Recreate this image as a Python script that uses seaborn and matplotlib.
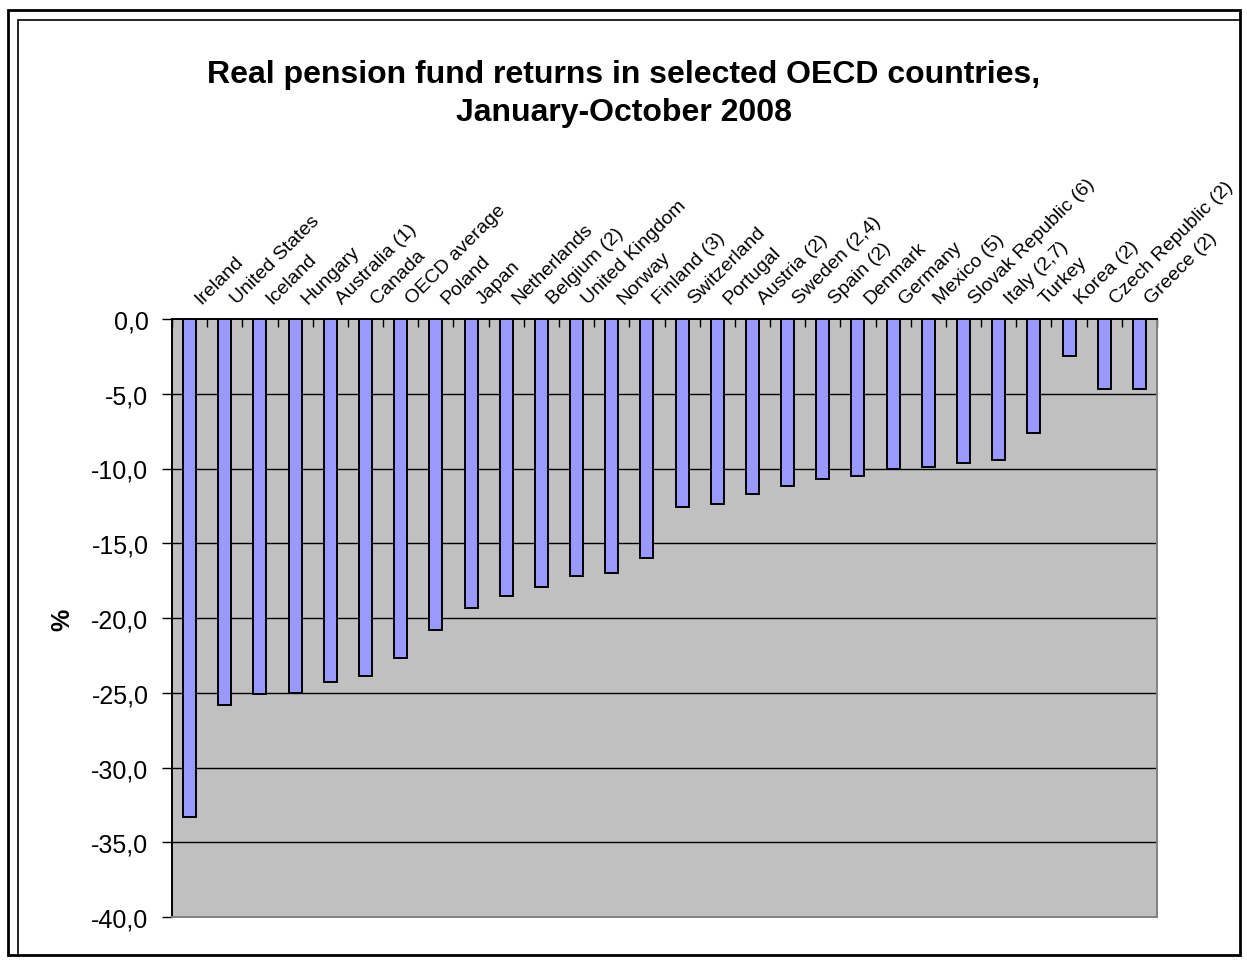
import matplotlib
matplotlib.use("Agg")
import matplotlib.pyplot as plt
import matplotlib.transforms as mtransforms
from matplotlib.lines import Line2D
from matplotlib.patches import Rectangle
from matplotlib.ticker import FixedLocator, FuncFormatter, NullFormatter
import seaborn as sns
import pandas as pd

# Real pension fund returns, January-October 2008 (%)
countries = [
    "Ireland", "United States", "Iceland", "Hungary", "Australia (1)", "Canada",
    "OECD average", "Poland", "Japan", "Netherlands", "Belgium (2)",
    "United Kingdom", "Norway", "Finland (3)", "Switzerland", "Portugal",
    "Austria (2)", "Sweden (2,4)", "Spain (2)", "Denmark", "Germany",
    "Mexico (5)", "Slovak Republic (6)", "Italy (2,7)", "Turkey", "Korea (2)",
    "Czech Republic (2)", "Greece (2)",
]
returns = [
    -33.3, -25.8, -25.1, -25.0, -24.3, -23.9,
    -22.7, -20.8, -19.3, -18.5, -17.9,
    -17.2, -17.0, -16.0, -12.6, -12.4,
    -11.7, -11.2, -10.7, -10.5, -10.0,
    -9.9, -9.6, -9.4, -7.6, -2.5,
    -4.7, -4.7,
]
y_ticks = [0, -5, -10, -15, -20, -25, -30, -35, -40]
title_lines = ["Real pension fund returns in selected OECD countries,",
               "January-October 2008"]

df = pd.DataFrame({"country": countries, "ret": returns})

sns.set_theme(style="white")
plt.rcParams["font.family"] = ["Liberation Sans", "DejaVu Sans"]
plt.rcParams["text.color"] = "black"
plt.rcParams["axes.labelcolor"] = "black"
plt.rcParams["xtick.color"] = "black"
plt.rcParams["ytick.color"] = "black"

W, H = 1247, 962
fig = plt.figure(figsize=(W / 100, H / 100), dpi=100)
fig.patch.set_facecolor("white")

# plot area in pixel coordinates
left, right, top, bottom = 172, 1157, 320, 918
ax = fig.add_axes([left / W, 1 - bottom / H, (right - left) / W, (bottom - top) / H])
ax.set_facecolor("#C0C0C0")

sns.barplot(data=df, x="country", y="ret", order=countries, color="#9999FF",
            saturation=1, edgecolor="black", linewidth=1.4, width=0.37, ax=ax,
            zorder=3)

ax.set_xlim(-0.5, len(countries) - 0.5)
ax.set_ylim(-40, 0)

# horizontal gridlines
for v in y_ticks[1:-1]:
    ax.axhline(v, color="black", lw=1.0, zorder=1)

# y axis
ax.yaxis.set_major_locator(FixedLocator(y_ticks))
ax.yaxis.set_major_formatter(FuncFormatter(lambda v, p: f"{v:.1f}".replace(".", ",")))
ax.tick_params(axis="y", which="major", direction="out", length=7, width=1,
               color="black", labelcolor="black", labelsize=18, pad=10, left=True)

# category boundary ticks along the zero line
ax.xaxis.set_ticks_position("top")
ax.xaxis.set_major_locator(FixedLocator([i - 0.5 for i in range(len(countries) + 1)]))
ax.xaxis.set_major_formatter(NullFormatter())
ax.tick_params(axis="x", which="major", direction="in", length=6, width=1,
               color="black", top=True, bottom=False)
ax.set_xlabel("")
ax.set_ylabel("")

for side in ["left", "top"]:
    ax.spines[side].set_color("black")
    ax.spines[side].set_linewidth(1.4)
for side in ["right", "bottom"]:
    ax.spines[side].set_color("#808080")
    ax.spines[side].set_linewidth(1.4)
ax.spines["top"].set_zorder(4)

# rotated category labels above the zero line
lab_tr = mtransforms.offset_copy(ax.transData, fig=fig, x=12, y=15, units="dots")
for i, name in enumerate(countries):
    ax.text(i, 0, name, transform=lab_tr, rotation=45, rotation_mode="anchor",
            ha="left", va="baseline", fontsize=14, color="black", clip_on=False)

# axis title
fig.text(62 / W, 1 - 620 / H, "%", rotation=90, ha="center", va="center",
         fontsize=18, fontweight="bold", color="black")

# chart title
fig.text(0.5, 1 - 75 / H, title_lines[0], ha="center", va="center",
         fontsize=23, fontweight="bold", color="black")
fig.text(0.5, 1 - 113 / H, title_lines[1], ha="center", va="center",
         fontsize=23, fontweight="bold", color="black")

# chart frame
def px(x, y):
    return x / W, 1 - y / H

fig.add_artist(Rectangle(px(8, 956), (1240 - 8) / W, (956 - 11) / H,
                         transform=fig.transFigure, fill=False,
                         edgecolor="black", lw=2))
fig.add_artist(Line2D(*zip(px(18, 21), px(18, 956)), transform=fig.transFigure,
                      color="black", lw=1.2))
fig.add_artist(Line2D(*zip(px(18, 21), px(1240, 21)), transform=fig.transFigure,
                      color="black", lw=1.2))

fig.savefig("out.png", dpi=100, facecolor="white")
